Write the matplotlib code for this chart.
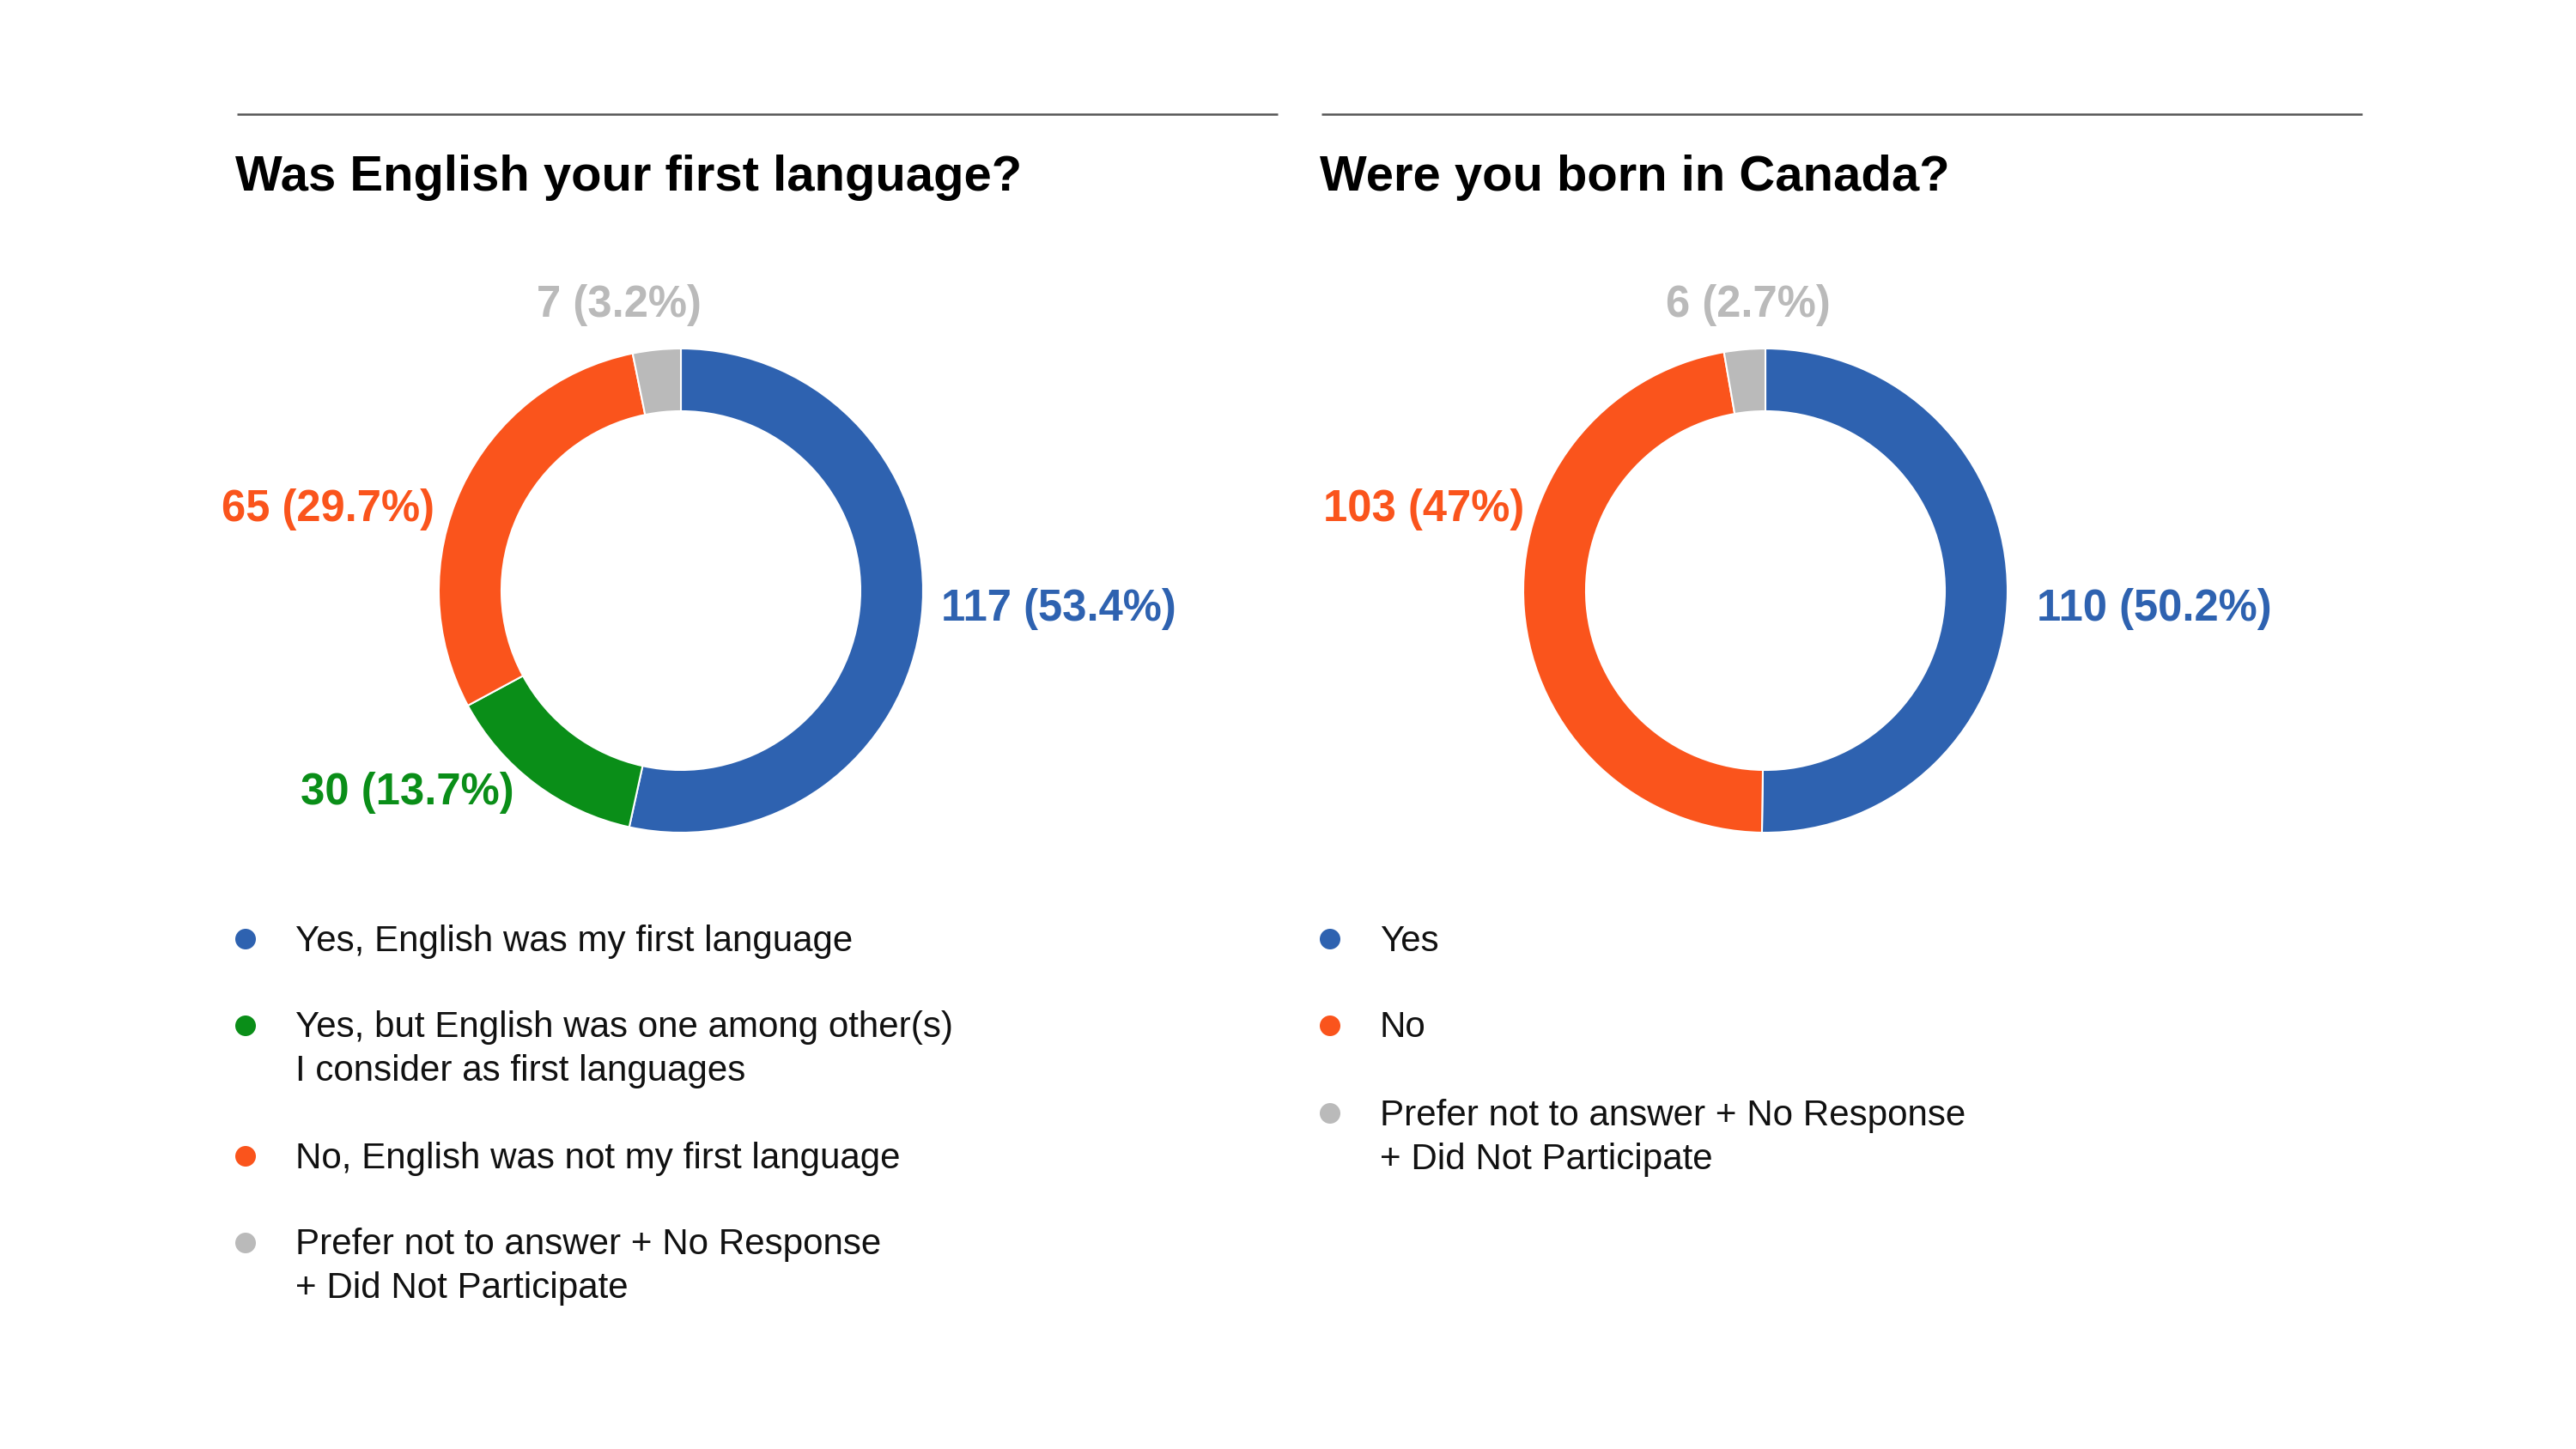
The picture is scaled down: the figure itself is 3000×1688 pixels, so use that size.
import matplotlib
matplotlib.use("Agg")
import matplotlib.pyplot as plt
from matplotlib.patches import Circle

plt.rcParams["font.family"] = ["Liberation Sans", "DejaVu Sans"]

W, H = 3000, 1688

# ---- data ----
lang_title = "Was English your first language?"
lang_labels = [
    "Yes, English was my first language",
    "Yes, but English was one among other(s)\nI consider as first languages",
    "No, English was not my first language",
    "Prefer not to answer + No Response\n+ Did Not Participate",
]
lang_counts = [117, 30, 65, 7]
lang_pcts = ["53.4%", "13.7%", "29.7%", "3.2%"]
lang_colors = ["#2e62b0", "#0a8e18", "#fa541c", "#bababa"]

born_title = "Were you born in Canada?"
born_labels = [
    "Yes",
    "No",
    "Prefer not to answer + No Response\n+ Did Not Participate",
]
born_counts = [110, 103, 6]
born_pcts = ["50.2%", "47%", "2.7%"]
born_colors = ["#2e62b0", "#fa541c", "#bababa"]


def fy(y):
    # pixel rows counted from the top
    return H - y


fig = plt.figure(figsize=(W / 100, H / 100), dpi=100)
ax = fig.add_axes([0, 0, 1, 1])


def panel(x0, counts, pcts, colors, labels, title, label_pos, legend_rows):
    ax.plot([x0, x0 + 1212], [fy(133), fy(133)], color="#555555", lw=1.8,
            solid_capstyle="butt")
    ax.text(x0 - 2, fy(222), title, fontsize=41.8, fontweight="bold",
            ha="left", va="baseline", color="black")

    cx, cy = x0 + 517, fy(688)
    ax.pie(counts, colors=colors, startangle=90, counterclock=False,
           center=(cx, cy), radius=282,
           wedgeprops=dict(width=73, edgecolor="white", linewidth=1.5))

    for (dx, y, ha), n, p, c in zip(label_pos, counts, pcts, colors):
        ax.text(x0 + dx, fy(y), f"{n} ({p})", fontsize=36.5, fontweight="bold",
                color=c, ha=ha, va="baseline")

    for (ydot, ytxt), lab, c in zip(legend_rows, labels, colors):
        ax.add_patch(Circle((x0 + 10, fy(ydot)), 12, color=c, lw=0))
        for k, line in enumerate(lab.split("\n")):
            ax.text(x0 + 68, fy(ytxt + 51 * k), line, fontsize=30.3,
                    color="#111111", ha="left", va="baseline")


panel(276, lang_counts, lang_pcts, lang_colors, lang_labels, lang_title,
      [(820, 723, "left"), (74, 937, "left"), (230, 607, "right"),
       (445, 369, "center")],
      [(1094, 1108), (1195, 1208), (1347, 1361), (1448, 1461)])

panel(1539, born_counts, born_pcts, born_colors, born_labels, born_title,
      [(833, 723, "left"), (236, 607, "right"), (497, 369, "center")],
      [(1094, 1108), (1195, 1208), (1297, 1311)])

ax.set_xlim(0, W)
ax.set_ylim(0, H)
ax.set_aspect("auto")
ax.axis("off")

fig.savefig("out.png", dpi=100, facecolor="white")
